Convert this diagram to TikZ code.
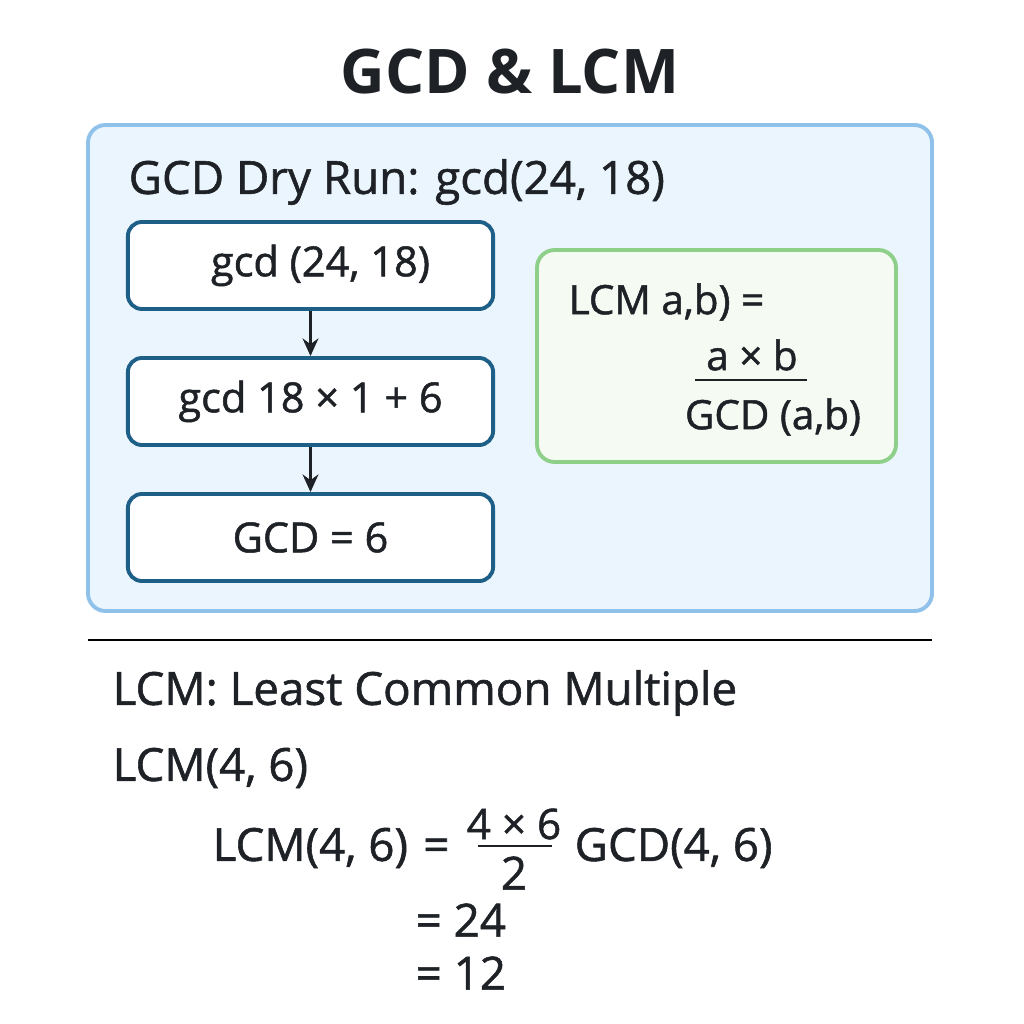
\documentclass[tikz,border=0pt]{standalone}
\usepackage{fontspec}
\setmainfont{Open Sans}
\newfontfamily\midfont{Open Sans}[FakeBold=1.2]
\usetikzlibrary{positioning}
\usetikzlibrary{arrows.meta}
\definecolor{panelFill}{HTML}{EAF5FD}
\definecolor{panelLine}{HTML}{8FC1EA}
\definecolor{stepLine}{HTML}{1E5F87}
\definecolor{lcmFill}{HTML}{F5FBF3}
\definecolor{lcmLine}{HTML}{8ED08A}
\definecolor{inkColor}{HTML}{1E2227}

\begin{document}
\begin{tikzpicture}[x=0.01cm,y=-0.01cm]

          \tikzstyle{titleNode} = [inkColor, font=\fontsize{17.5}{21}\selectfont\bfseries];
          \tikzstyle{headNode} = [inkColor, anchor=west, inner sep=0pt, font=\fontsize{13}{16}\selectfont\midfont];
          \tikzstyle{stepNode} = [inkColor, draw=stepLine, line width=1.1pt, fill=white, rounded corners=4pt, minimum width=3.65cm, minimum height=0.87cm, font=\fontsize{11.8}{14}\selectfont\midfont];
          \tikzstyle{textNode} = [inkColor, inner sep=0pt, font=\fontsize{11.5}{14}\selectfont\midfont];
          \tikzstyle{lowNode} = [inkColor, anchor=west, inner sep=0pt, font=\fontsize{13}{16}\selectfont\midfont];

          \tikzstyle{stepEdge} = [inkColor, line width=0.8pt, -{Stealth[length=5pt,width=4.5pt]}];
          \tikzstyle{fracEdge} = [inkColor, line width=0.8pt];

          \useasboundingbox (0,0) rectangle (1024,1024);

          \node[titleNode] (title) at (510,72) {GCD \& LCM};

          \draw[fill=panelFill, draw=panelLine, line width=1.1pt, rounded corners=5pt] (88,125) rectangle (932,611);
          \node[headNode] (head) at (128,182) {GCD Dry Run: gcd(24, 18)};

          \node[stepNode] (s1) at (310.5,265.5) {\hspace*{0.2cm}gcd (24, 18)};
          \node[stepNode] (s2) at (310.5,401.5) {gcd 18 × 1 + 6};
          \node[stepNode] (s3) at (310.5,537.5) {GCD = 6};

          \draw[stepEdge] (s1) -- (s2);
          \draw[stepEdge] (s2) -- (s3);

          \draw[fill=lcmFill, draw=lcmLine, line width=1.1pt, rounded corners=5pt] (537,250) rectangle (896,462);
          \node[textNode, anchor=west] (lcmab) at (568,302) {LCM a,b) =};
          \node[textNode] (axb) at (752,355) {a × b};
          \node[textNode] (gcdab) at (773,417) {GCD (a,b)};
          \coordinate (barL) at (695,380);
          \coordinate (barR) at (807,380);
          \draw[fracEdge] (barL) -- (barR);

          \draw[black, line width=0.8pt] (88,640) -- (932,640);

          \node[lowNode] (lcmname) at (112,693) {LCM: Least Common Multiple};
          \node[lowNode] (lcm46) at (112,768) {LCM(4, 6)};
          \node[lowNode] (lhs) at (212,848) {LCM(4, 6)\,\,=};
          \node[lowNode, anchor=center, font=\fontsize{12}{14}\selectfont\midfont] (num) at (514,824) {4 × 6};
          \node[lowNode, anchor=center] (den) at (514,873) {2};
          \coordinate (numL) at (478,846);
          \coordinate (numR) at (552,846);
          \draw[fracEdge] (numL) -- (numR);
          \node[lowNode] (gcd46) at (574,848) {GCD(4, 6)};
          \node[lowNode] (r24) at (415,920) {= 24};
          \node[lowNode] (r12) at (415,973) {= 12};
        \end{tikzpicture}
\end{document}
